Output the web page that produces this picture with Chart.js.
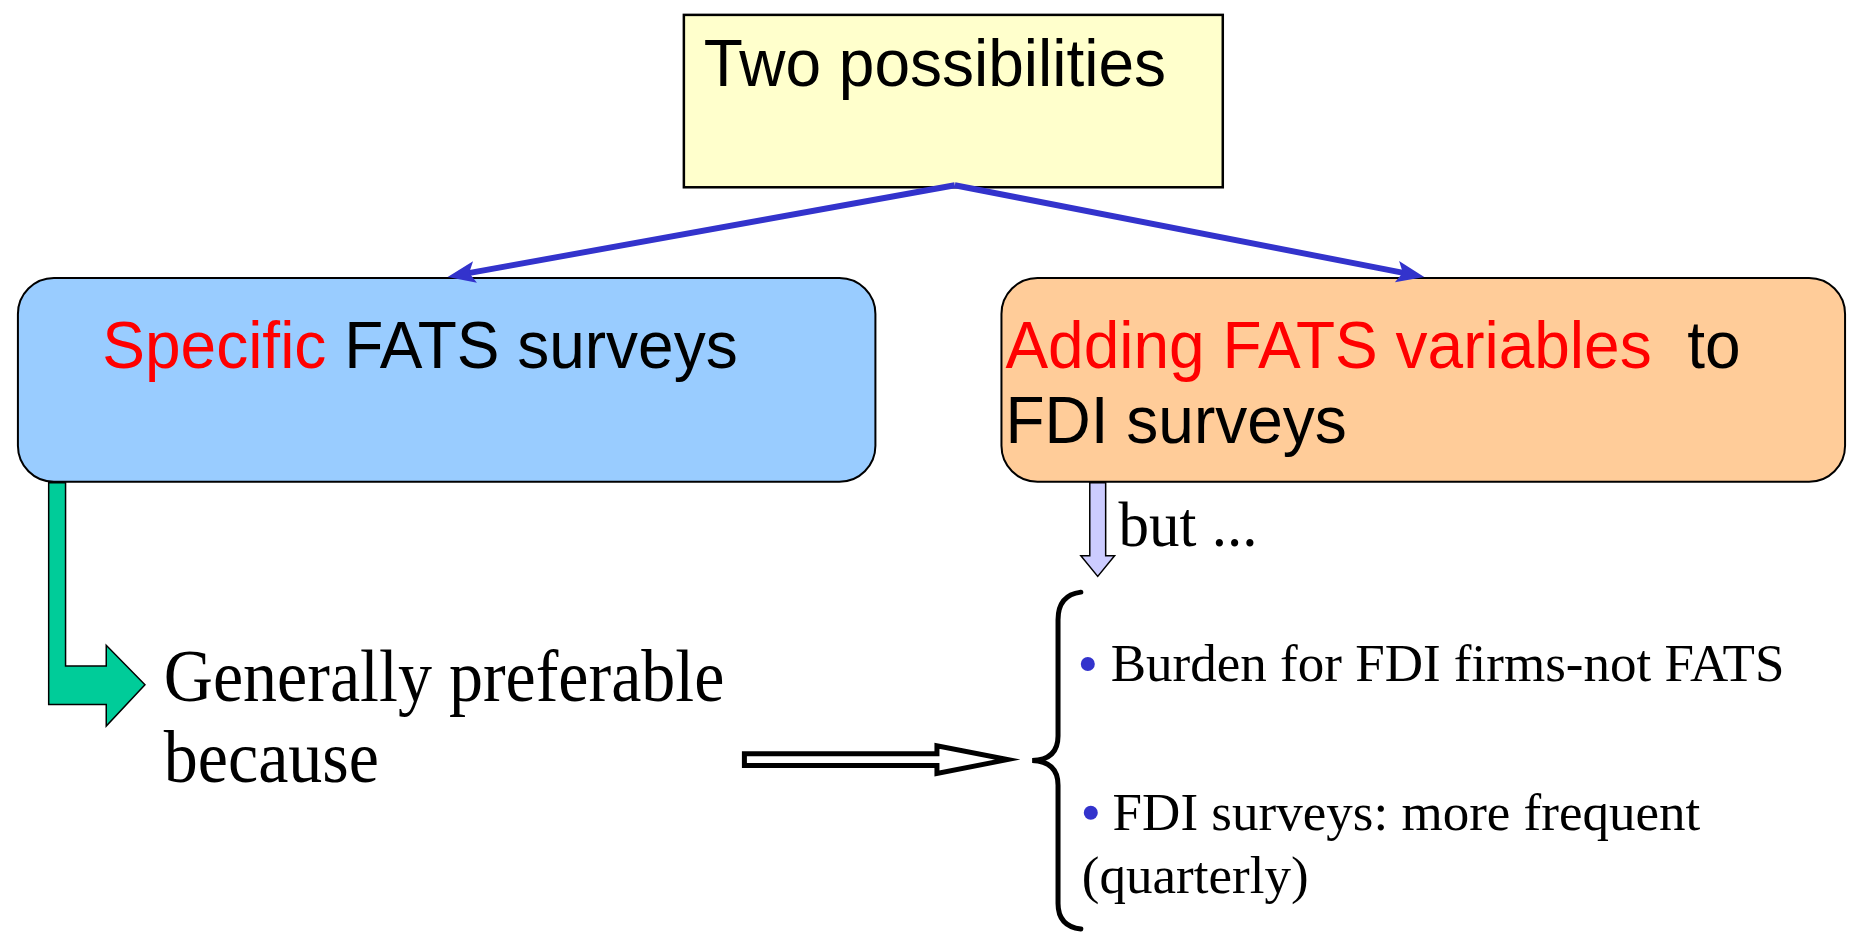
<!DOCTYPE html>
<html>
<head>
<meta charset="utf-8">
<title>Two possibilities</title>
<script src="https://cdn.jsdelivr.net/npm/chart.js@4"></script>
<style>
  html, body { margin: 0; padding: 0; background: #ffffff; overflow: hidden; }
  #wrap { width: 1860px; height: 939px; position: relative; }
</style>
</head>
<body>
<div id="wrap"><canvas id="diagram"></canvas></div>
<script>
// diagram units: x 0..1860 left to right, y 0..939 top to bottom
const topBox = [682, 8, 1225, 183];
const leftBox = [11, 275, 875, 482];
const rightBox = [1002, 275, 1852, 482];

const apex = [955, 181];
const connectorTips = [[444, 274], [1428, 274]];

const bulletX = [1089, 1092];
const bulletY = [667, 818];

const titleText = 'Two possibilities';
const leftRuns = [['Specific ', 'red'], ['FATS surveys', 'black']];
const rightRuns = [['Adding FATS variables', 'red'], ['  to', 'black']];
const rightLine2 = 'FDI surveys';
const butText = 'but ...';
const mainText = ['Generally preferable', 'because'];
const bulletText = ['Burden for FDI firms-not FATS', 'FDI surveys: more frequent', '(quarterly)'];

const SANS = '"Liberation Sans", Arial, Helvetica, sans-serif';
const SERIF = '"Liberation Serif", "Times New Roman", Times, serif';
const BLUE = '#3333CC';

// shorten a connector so its butt end sits under the arrow head
function headBase(from, tip, len) {
    const dx = tip[0] - from[0], dy = tip[1] - from[1];
    const d = Math.hypot(dx, dy);
    return [tip[0] - dx / d * len, tip[1] - dy / d * len];
}

const connectorSets = connectorTips.map(tip => {
    const b = headBase(apex, tip, 20);
    return {
        type: 'line',
        data: [{ x: apex[0], y: apex[1] }, { x: b[0], y: b[1] }],
        borderColor: BLUE,
        borderWidth: 6,
        pointRadius: 0,
        fill: false,
        tension: 0
    };
});

function roundBox(ctx, x0, y0, x1, y1, r) {
    ctx.beginPath();
    ctx.roundRect(x0, y0, x1 - x0, y1 - y0, r);
}

function poly(ctx, pts, fill, stroke, lw) {
    ctx.beginPath();
    pts.forEach((p, i) => i ? ctx.lineTo(p[0], p[1]) : ctx.moveTo(p[0], p[1]));
    ctx.closePath();
    ctx.fillStyle = fill;
    ctx.fill();
    ctx.lineWidth = lw;
    ctx.strokeStyle = stroke;
    ctx.lineJoin = 'miter';
    ctx.stroke();
}

// text with optional stretch, anchored at its baseline
function stretchText(ctx, t, x, y, sx, sy) {
    ctx.save();
    ctx.translate(x, y);
    ctx.scale(sx, sy);
    ctx.fillText(t, 0, 0);
    ctx.restore();
}

const diagramPlugin = {
    id: 'diagram',
    beforeDatasetsDraw(chart) {
        const ctx = chart.ctx;
        const X = v => chart.scales.x.getPixelForValue(v);
        const Y = v => chart.scales.y.getPixelForValue(v);
        ctx.save();

        // top box
        ctx.fillStyle = '#FFFFCC';
        ctx.fillRect(X(topBox[0]), Y(topBox[1]), X(topBox[2]) - X(topBox[0]), Y(topBox[3]) - Y(topBox[1]));
        ctx.lineWidth = 2.5;
        ctx.strokeStyle = '#000';
        ctx.strokeRect(X(topBox[0]), Y(topBox[1]), X(topBox[2]) - X(topBox[0]), Y(topBox[3]) - Y(topBox[1]));

        // rounded boxes
        [[leftBox, '#99CCFF'], [rightBox, '#FFCC99']].forEach(([b, col]) => {
            roundBox(ctx, X(b[0]), Y(b[1]), X(b[2]), Y(b[3]), 36);
            ctx.fillStyle = col;
            ctx.fill();
            ctx.lineWidth = 2;
            ctx.strokeStyle = '#000';
            ctx.stroke();
        });

        // green bent arrow from the left box
        poly(ctx, [[42, 483], [59, 483], [59, 669], [100, 669], [100, 648], [139, 688],
                   [100, 730], [100, 708], [42, 708]].map(p => [X(p[0]), Y(p[1])]),
             '#00CC99', '#000', 1.5);

        // lavender arrow from the right box
        poly(ctx, [[1091, 483], [1107, 483], [1107, 557], [1116, 557], [1099, 578],
                   [1082, 557], [1091, 557]].map(p => [X(p[0]), Y(p[1])]),
             '#CCCCFF', '#000', 1.5);

        // hollow arrow
        poly(ctx, [[743, 758], [937, 758], [937, 750], [1008, 764], [937, 778], [937, 770],
                   [743, 770]].map(p => [X(p[0]), Y(p[1])]),
             '#FFFFFF', '#000', 5);

        // brace
        ctx.beginPath();
        ctx.moveTo(X(1082), Y(594));
        ctx.quadraticCurveTo(X(1059), Y(597), X(1059), Y(622));
        ctx.lineTo(X(1059), Y(740));
        ctx.quadraticCurveTo(X(1059), Y(764), X(1033), Y(765));
        ctx.quadraticCurveTo(X(1059), Y(766), X(1059), Y(790));
        ctx.lineTo(X(1059), Y(910));
        ctx.quadraticCurveTo(X(1059), Y(933), X(1082), Y(936));
        ctx.lineWidth = 5;
        ctx.lineCap = 'round';
        ctx.strokeStyle = '#000';
        ctx.stroke();

        ctx.restore();
    },
    afterDatasetsDraw(chart) {
        const ctx = chart.ctx;
        const X = v => chart.scales.x.getPixelForValue(v);
        const Y = v => chart.scales.y.getPixelForValue(v);
        ctx.save();

        // arrow heads on the blue connectors
        connectorTips.forEach(tip => {
            const dx = tip[0] - apex[0], dy = tip[1] - apex[1];
            const d = Math.hypot(dx, dy), ux = dx / d, uy = dy / d;
            const len = 28, half = 11;
            const bx = tip[0] - ux * len, by = tip[1] - uy * len;
            ctx.beginPath();
            ctx.moveTo(X(tip[0]), Y(tip[1]));
            ctx.lineTo(X(bx - uy * half), Y(by + ux * half));
            ctx.lineTo(X(tip[0] - ux * (len - 6)), Y(tip[1] - uy * (len - 6)));
            ctx.lineTo(X(bx + uy * half), Y(by - ux * half));
            ctx.closePath();
            ctx.fillStyle = BLUE;
            ctx.fill();
        });

        ctx.textBaseline = 'alphabetic';
        ctx.textAlign = 'left';

        // sans texts
        ctx.font = '64px ' + SANS;
        ctx.fillStyle = '#000';
        stretchText(ctx, titleText, X(702), Y(80), 1, 1.05);

        let x = X(96);
        leftRuns.forEach(([t, c]) => {
            ctx.fillStyle = c;
            stretchText(ctx, t, x, Y(366), 1, 1.05);
            x += ctx.measureText(t).width;
        });
        x = X(1006);
        rightRuns.forEach(([t, c]) => {
            ctx.fillStyle = c;
            stretchText(ctx, t, x, Y(366), 1, 1.05);
            x += ctx.measureText(t).width;
        });
        ctx.fillStyle = '#000';
        stretchText(ctx, rightLine2, X(1006), Y(443), 1, 1.05);

        // serif texts
        ctx.font = '61px ' + SERIF;
        stretchText(ctx, butText, X(1120), Y(547), 1, 1.03);

        ctx.font = '68px ' + SERIF;
        stretchText(ctx, mainText[0], X(158), Y(705), 1, 1.1);
        stretchText(ctx, mainText[1], X(158), Y(787), 1, 1.1);

        ctx.font = '51px ' + SERIF;
        [[bulletText[0], 1112, 684], [bulletText[1], 1114, 835], [bulletText[2], 1083, 899]].forEach(([t, tx, ty]) => {
            stretchText(ctx, t, X(tx), Y(ty), 1.04, 1.03);
        });

        ctx.restore();
    }
};

new Chart(document.getElementById('diagram'), {
    type: 'scatter',
    data: {
        datasets: [
            ...connectorSets,
            {
                type: 'scatter',
                data: bulletX.map((v, i) => ({ x: v, y: bulletY[i] })),
                backgroundColor: BLUE,
                borderWidth: 0,
                pointRadius: 7
            }
        ]
    },
    options: {
        responsive: true,
        maintainAspectRatio: false,
        animation: false,
        layout: { padding: 0 },
        plugins: { legend: { display: false }, tooltip: { enabled: false } },
        scales: {
            x: { type: 'linear', min: 0, max: 1860, display: false },
            y: { type: 'linear', min: 0, max: 939, reverse: true, display: false }
        }
    },
    plugins: [diagramPlugin]
});
</script>
</body>
</html>
